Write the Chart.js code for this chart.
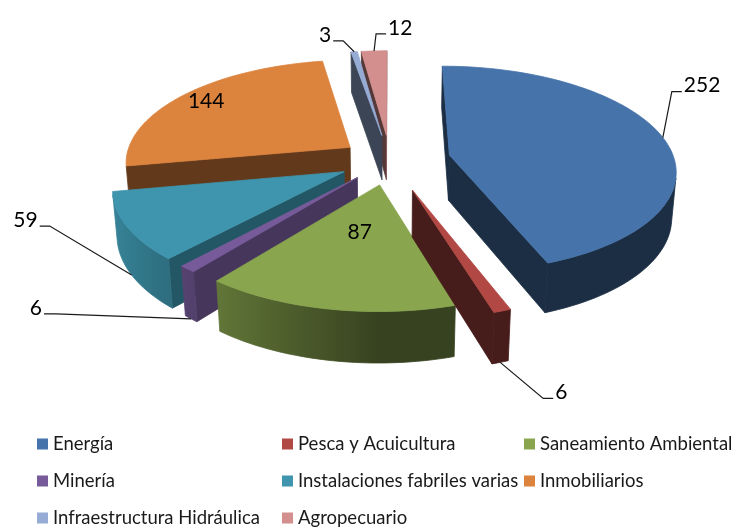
<!DOCTYPE html>
<html>
<head>
<meta charset="utf-8">
<script src="https://cdn.jsdelivr.net/npm/chart.js@4.4.1/dist/chart.umd.min.js"></script>
<style>
    html, body { margin: 0; padding: 0; background: #fff; }
    #wrap { width: 737px; height: 527px; }
</style>
</head>
<body>
<div id="wrap"><canvas id="chart" width="737" height="527"></canvas></div>
<script>
// Datos del gráfico
const categories = ['Energía', 'Pesca y Acuicultura', 'Saneamiento Ambiental', 'Minería',
    'Instalaciones fabriles varias', 'Inmobiliarios', 'Infraestructura Hidráulica', 'Agropecuario'];
const values = [252, 6, 87, 6, 59, 144, 3, 12];

// Colores de cada sector
const sliceColors = ['#4673aa', '#b24844', '#89a64f', '#765a99', '#3e95ad', '#dc833d', '#97acd5', '#d38f8d'];

// Vista en perspectiva (pastel 3D estilo Excel)
const view = { cx: 390, cy: 160, F: 1485, L: 6.6, beta: 27 * Math.PI / 180, h: 0.23 };
// separación de cada sector (unidades del radio)
const explode = [0.27, 0.30, 0.24, 0.22, 0.23, 0.22, 0.25, 0.25];

// Etiquetas: dentro del sector o con línea guía
const labelCfg = [
    { mode: 'leader', at: 0, elbow: [9, -46], run: 10 },
    { mode: 'leader', at: 1, elbow: [43, 36], run: 10 },
    { mode: 'inside', r: 0.42 },
    { mode: 'leader', at: 1, elbow: [-135, -5], run: -12 },
    { mode: 'leader', at: 1, elbow: [-82, -49], run: -10 },
    { mode: 'inside', r: 0.86 },
    { mode: 'leader', at: 0, elbow: [-11, -11], run: -10 },
    { mode: 'leader', at: 0, elbow: [2, -17], run: 10 }
];

function project(X, Y, Z) {
    const sb = Math.sin(view.beta), cb = Math.cos(view.beta);
    const depth = view.L + Z * cb - Y * sb;
    const yc = Y * cb + Z * sb;
    return [view.cx + view.F * X / depth, view.cy - view.F * yc / depth];
}

function shade(hex, f) {
    const n = parseInt(hex.slice(1), 16);
    const r = Math.round(((n >> 16) & 255) * f);
    const g = Math.round(((n >> 8) & 255) * f);
    const b = Math.round((n & 255) * f);
    return 'rgb(' + r + ',' + g + ',' + b + ')';
}

function fillPoly(ctx, pts, color) {
    ctx.beginPath();
    pts.forEach((p, k) => k ? ctx.lineTo(p[0], p[1]) : ctx.moveTo(p[0], p[1]));
    ctx.closePath();
    ctx.fillStyle = color;
    ctx.strokeStyle = color;
    ctx.lineWidth = 0.8;
    ctx.fill();
    ctx.stroke();
}

// cara visible si su normal mira hacia la cámara
function facing(nx, nz, x, z) {
    const camZ = -view.L * Math.cos(view.beta);
    return nx * (0 - x) + nz * (camZ - z) > 0;
}

function wallShade(a) {
    return 0.4 + 0.5 * Math.max(0, -Math.sin(a));
}

function buildSlice(arc, i) {
    const p = arc.getProps(['startAngle', 'endAngle'], true);
    const a0 = p.startAngle + Math.PI / 2, a1 = p.endAngle + Math.PI / 2;
    const mid = (a0 + a1) / 2;
    const e = explode[i];
    const ox = Math.sin(mid) * e, oz = Math.cos(mid) * e;
    const n = Math.max(2, Math.ceil((a1 - a0) / 0.03));
    const rim = [];
    for (let k = 0; k <= n; k++) {
        const a = a0 + (a1 - a0) * k / n;
        rim.push({ a: a, x: ox + Math.sin(a), z: oz + Math.cos(a) });
    }
    return { i: i, a0: a0, a1: a1, mid: mid, ox: ox, oz: oz, rim: rim, depth: oz + Math.cos(mid) * 0.5 };
}

// pared exterior: un solo polígono por tramo visible, con degradado horizontal
function drawOuterRun(ctx, run, col) {
    const h = view.h;
    const topPts = run.map(r => project(r.x, 0, r.z));
    const botPts = run.map(r => project(r.x, -h, r.z));
    const xs = topPts.map(p => p[0]);
    const xmin = Math.min.apply(null, xs), xmax = Math.max.apply(null, xs);
    let fill;
    if (xmax - xmin < 1) {
        fill = shade(col, wallShade(run[0].a));
    } else {
        fill = ctx.createLinearGradient(xmin, 0, xmax, 0);
        run.map((r, k) => ({ t: (xs[k] - xmin) / (xmax - xmin), c: shade(col, wallShade(r.a)) }))
            .sort((a, b) => a.t - b.t)
            .forEach(s => fill.addColorStop(s.t, s.c));
    }
    ctx.beginPath();
    topPts.forEach((p, k) => k ? ctx.lineTo(p[0], p[1]) : ctx.moveTo(p[0], p[1]));
    for (let k = botPts.length - 1; k >= 0; k--) ctx.lineTo(botPts[k][0], botPts[k][1]);
    ctx.closePath();
    ctx.fillStyle = fill;
    ctx.strokeStyle = fill;
    ctx.lineWidth = 0.8;
    ctx.fill();
    ctx.stroke();
}

function drawSlice(ctx, s) {
    const h = view.h;
    const col = sliceColors[s.i];
    const first = s.rim[0], last = s.rim[s.rim.length - 1];
    const apexT = project(s.ox, 0, s.oz), apexB = project(s.ox, -h, s.oz);

    // paredes radiales
    const n0 = [-Math.cos(s.a0), Math.sin(s.a0)];
    if (facing(n0[0], n0[1], s.ox, s.oz)) {
        fillPoly(ctx, [apexT, project(first.x, 0, first.z), project(first.x, -h, first.z), apexB],
            shade(col, 0.4 + 0.25 * Math.max(0, n0[0])));
    }
    const n1 = [Math.cos(s.a1), -Math.sin(s.a1)];
    if (facing(n1[0], n1[1], s.ox, s.oz)) {
        fillPoly(ctx, [apexT, project(last.x, 0, last.z), project(last.x, -h, last.z), apexB],
            shade(col, 0.4 + 0.25 * Math.max(0, n1[0])));
    }

    // pared exterior curva (tramos visibles contiguos)
    let run = [];
    for (let k = 0; k < s.rim.length - 1; k++) {
        const p = s.rim[k], q = s.rim[k + 1];
        const am = (p.a + q.a) / 2;
        if (facing(Math.sin(am), Math.cos(am), (p.x + q.x) / 2, (p.z + q.z) / 2)) {
            if (!run.length) run.push(p);
            run.push(q);
        } else if (run.length) {
            drawOuterRun(ctx, run, col);
            run = [];
        }
    }
    if (run.length) drawOuterRun(ctx, run, col);

    // cara superior
    const top = [apexT].concat(s.rim.map(r => project(r.x, 0, r.z)));
    fillPoly(ctx, top, col);
}

function drawLabels(ctx, slices) {
    ctx.save();
    ctx.font = '21px Lato';
    ctx.fillStyle = '#000';
    ctx.strokeStyle = '#1a1a1a';
    ctx.lineWidth = 1.2;
    ctx.textBaseline = 'middle';
    slices.forEach(s => {
        const cfg = labelCfg[s.i];
        const text = String(values[s.i]);
        if (cfg.mode === 'inside') {
            const x = s.ox + Math.sin(s.mid) * cfg.r, z = s.oz + Math.cos(s.mid) * cfg.r;
            const p = project(x, 0, z);
            ctx.textAlign = 'center';
            ctx.fillText(text, p[0], p[1]);
            return;
        }
        const x = s.ox + Math.sin(s.mid), z = s.oz + Math.cos(s.mid);
        const a = project(x, -view.h * cfg.at, z);
        const el = [a[0] + cfg.elbow[0], a[1] + cfg.elbow[1]];
        const end = [el[0] + cfg.run, el[1]];
        ctx.beginPath();
        ctx.moveTo(a[0], a[1]);
        ctx.lineTo(el[0], el[1]);
        ctx.lineTo(end[0], end[1]);
        ctx.stroke();
        ctx.textAlign = cfg.run > 0 ? 'left' : 'right';
        ctx.fillText(text, end[0] + (cfg.run > 0 ? 2 : -2), end[1] - 6);
    });
    ctx.restore();
}

function drawLegend(ctx) {
    const colX = [37, 282, 524];
    const rowY = [444, 481, 518];
    ctx.save();
    ctx.font = '18.5px Lato';
    ctx.textBaseline = 'middle';
    ctx.textAlign = 'left';
    categories.forEach((name, i) => {
        const x = colX[i % 3], y = rowY[Math.floor(i / 3)];
        ctx.fillStyle = sliceColors[i];
        ctx.fillRect(x, y - 5.5, 11, 11);
        ctx.fillStyle = '#1a1a1a';
        ctx.fillText(name, x + 16, y);
    });
    ctx.restore();
}

const pie3d = {
    id: 'pie3d',
    beforeDatasetsDraw(chart) {
        const meta = chart.getDatasetMeta(0);
        const ctx = chart.ctx;
        const slices = meta.data.map((arc, i) => buildSlice(arc, i));
        slices.slice().sort((a, b) => b.depth - a.depth).forEach(s => drawSlice(ctx, s));
        chart.$slices = slices;
        return false;
    },
    afterDraw(chart) {
        const ctx = chart.ctx;
        if (chart.$slices) drawLabels(ctx, chart.$slices);
        drawLegend(ctx);
    }
};

new Chart(document.getElementById('chart'), {
    type: 'pie',
    data: {
        labels: categories,
        datasets: [
            {
                data: values,
                backgroundColor: sliceColors,
                borderWidth: 0
            }
        ]
    },
    options: {
        responsive: false,
        animation: false,
        events: [],
        plugins: {
            legend: { display: false },
            tooltip: { enabled: false }
        }
    },
    plugins: [pie3d]
});
</script>
</body>
</html>
